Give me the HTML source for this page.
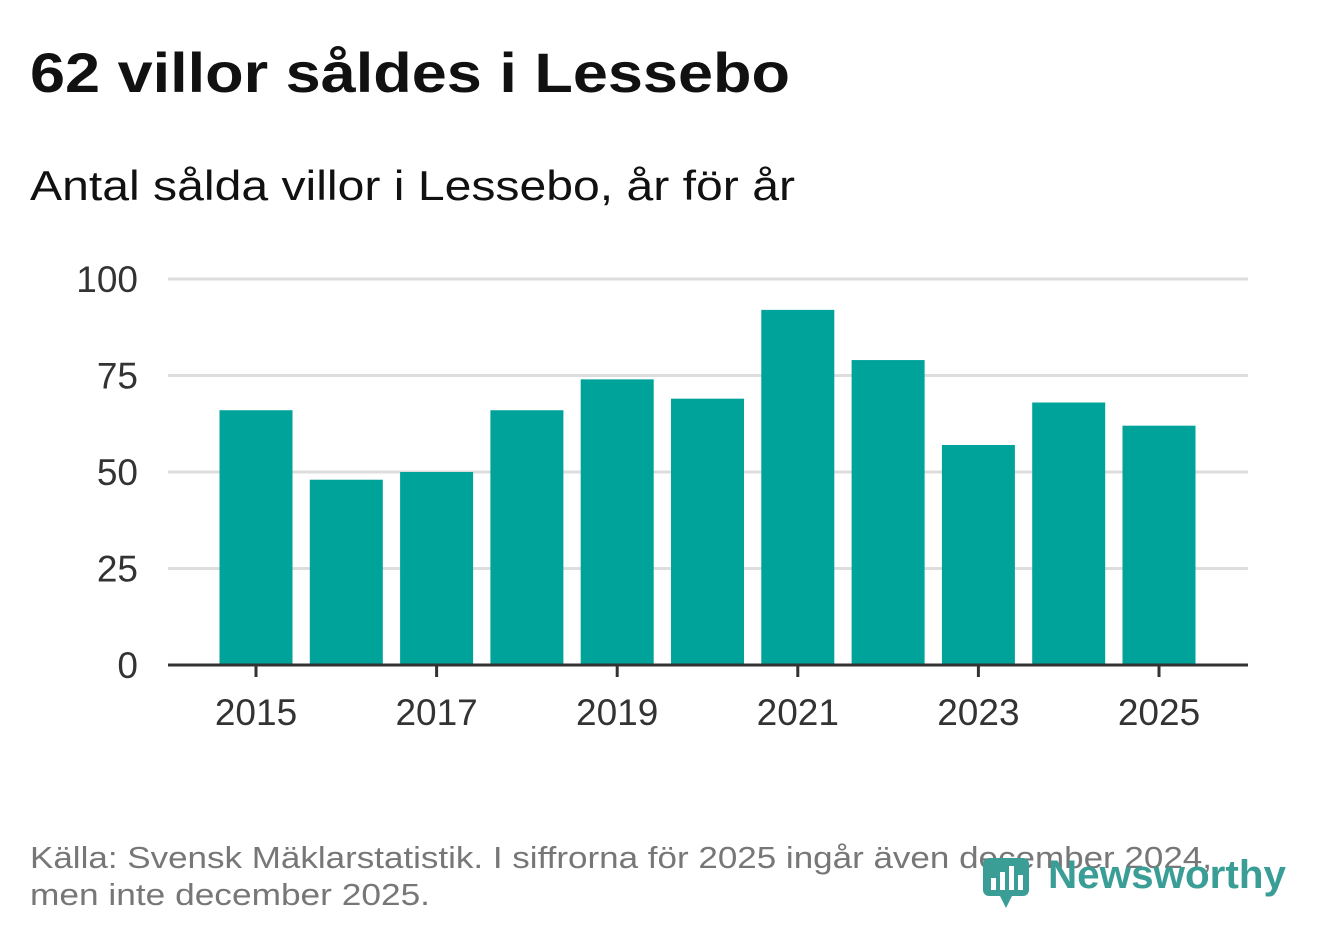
<!DOCTYPE html>
<html><head><meta charset="utf-8"><style>
body{margin:0;width:1322px;height:939px;background:#fff;font-family:"Liberation Sans",sans-serif;overflow:hidden}
</style></head><body>
<svg width="1322" height="939" xmlns="http://www.w3.org/2000/svg">
<text x="30" y="92" font-size="56" font-weight="bold" fill="#111" textLength="760" lengthAdjust="spacingAndGlyphs">62 villor såldes i Lessebo</text>
<text x="30" y="200" font-size="42" fill="#111" textLength="765" lengthAdjust="spacingAndGlyphs">Antal sålda villor i Lessebo, år för år</text>
<g id="grid"></g><g id="bars"></g><g id="xaxis"></g>
<text x="30" y="868" font-size="31" fill="#777" textLength="1182" lengthAdjust="spacingAndGlyphs">Källa: Svensk Mäklarstatistik. I siffrorna för 2025 ingår även december 2024,</text>
<text x="30" y="905" font-size="31" fill="#777" textLength="400" lengthAdjust="spacingAndGlyphs">men inte december 2025.</text>
<g>
<rect x="983" y="858" width="46" height="38" rx="6" fill="#3a9e96"/>
<polygon points="1000,896 1012,896 1006,908" fill="#3a9e96"/>
<rect x="991" y="878" width="5" height="12" fill="#fff"/><rect x="1000" y="872" width="5" height="18" fill="#fff"/><rect x="1009" y="866" width="5" height="24" fill="#fff"/><rect x="1018" y="875" width="5" height="15" fill="#fff"/>
<text x="1048" y="888" font-size="40" font-weight="bold" fill="#3a9e96" textLength="238" lengthAdjust="spacingAndGlyphs">Newsworthy</text>
</g>
</svg>
<script>
const years=[2015,2016,2017,2018,2019,2020,2021,2022,2023,2024,2025];
const values=[66,48,50,66,74,69,92,79,57,68,62];
const yTicks=[0,25,50,75,100];
const xTickLabels=[2015,2017,2019,2021,2023,2025];
const ns="http://www.w3.org/2000/svg";
const y=v=>665-v*3.86;
const x=yr=>256+(yr-2015)*90.3;
function mk(t,a,p){const e=document.createElementNS(ns,t);for(const k in a)e.setAttribute(k,a[k]);p.appendChild(e);return e;}
const g=document.getElementById('grid'),b=document.getElementById('bars'),xa=document.getElementById('xaxis');
yTicks.forEach(v=>{
 if(v>0){const l=mk('line',{x1:168,x2:1248,y1:y(v),y2:y(v),stroke:'#ddd','stroke-width':3},g);
 
 }
 const t=mk('text',{x:138,y:y(v)+13,'font-size':37,fill:'#333','text-anchor':'end'},g);t.textContent=v;
 
 
});
years.forEach((yr,i)=>{
 const r=mk('rect',{x:x(yr)-36.5,y:y(values[i]),width:73,height:665-y(values[i]),fill:'#00a39a'},b);
 
 
});
const ax=mk('line',{x1:168,x2:1248,y1:665,y2:665,stroke:'#333','stroke-width':3},xa);


xTickLabels.forEach(yr=>{
 mk('line',{x1:x(yr),x2:x(yr),y1:665,y2:677,stroke:'#333','stroke-width':3},xa);
 const t=mk('text',{x:x(yr),y:725,'font-size':37,fill:'#333','text-anchor':'middle'},xa);t.textContent=yr;
 
 
});
</script>
</body></html>
